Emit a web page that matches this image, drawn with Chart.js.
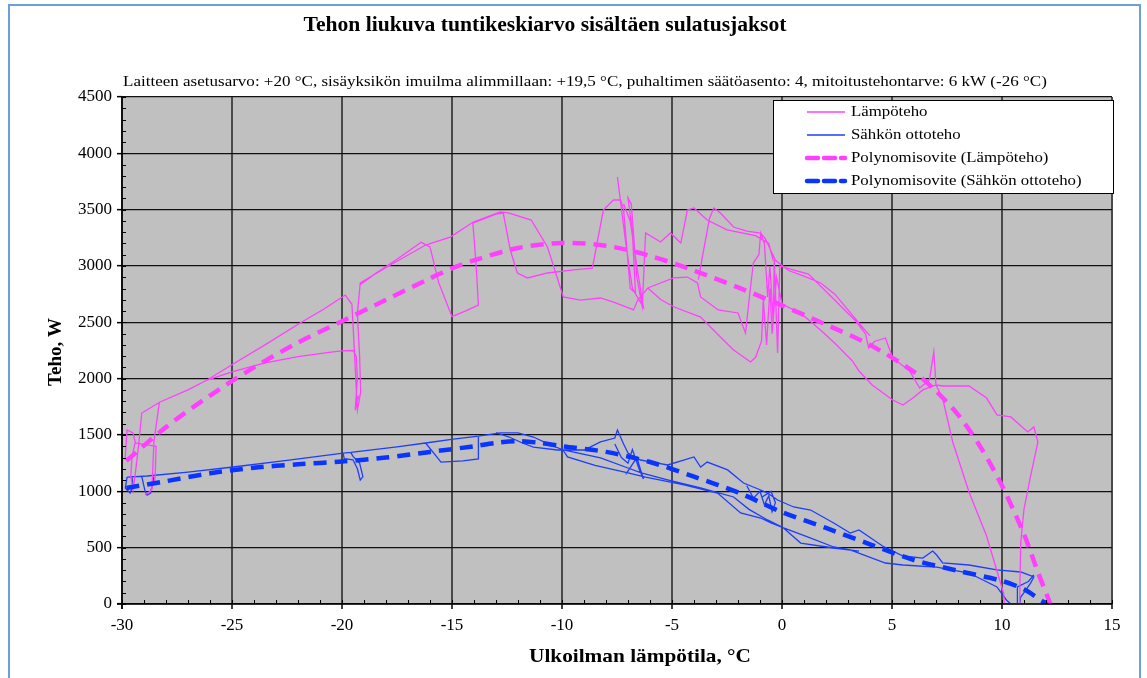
<!DOCTYPE html>
<html>
<head>
<meta charset="utf-8">
<script src="https://cdn.jsdelivr.net/npm/chart.js@4/dist/chart.umd.min.js"></script>
<style>
  html, body { margin: 0; padding: 0; background: #fff; }
  canvas { display: block; }
</style>
</head>
<body>
<canvas id="c" width="1147" height="678" style="width:1147px;height:678px"></canvas>
<script>
const SERIF = "'Liberation Serif', 'Times New Roman', serif";

const titleText = "Tehon liukuva tuntikeskiarvo sisältäen sulatusjaksot";
const subtitleText = "Laitteen asetusarvo: +20 °C, sisäyksikön imuilma alimmillaan: +19,5 °C, puhaltimen säätöasento: 4, mitoitustehontarve: 6 kW (-26 °C)";
const xTitle = "Ulkoilman lämpötila, °C";
const yTitle = "Teho, W";
const seriesNames = ["Lämpöteho", "Sähkön ottoteho", "Polynomisovite (Lämpöteho)", "Polynomisovite (Sähkön ottoteho)"];

// measured heat output, [outdoor °C, W], one array per trace
const lampoA = [[-29.86,1280],[-29.77,1545],[-29.5,1518],[-29.4,1440],[-29.55,1300],[-29.6,1130],[-29.5,1010],[-29.4,1150],[-29.25,1400],[-29.1,1695],[-28.27,1793],[-27,1900],[-26.13,1988],[-24.95,2130],[-23.5,2300],[-21.9,2494],[-20.8,2620],[-19.85,2742],[-19.55,2660],[-19.45,2300],[-19.35,1900],[-19.3,1720],[-19.15,1880],[-19.2,2200],[-19.3,2580],[-19.17,2849],[-17.8,3009],[-16.2,3186],[-15.08,3257],[-14.03,3390],[-12.8,3480],[-12.4,3470],[-11.4,3408],[-10.66,3169],[-9.94,2725],[-9.16,2698],[-8.25,2716],[-7.66,2680],[-7.0,2630],[-6.75,2610],[-6.55,2700],[-6.1,2805],[-5.52,2849],[-4.93,2894],[-4.3,2902],[-3.84,2849],[-3.7,2725],[-2.9,2610],[-2.0,2583],[-1.66,2405],[-1.43,2814],[-1.3,3027],[-1.05,3100],[-0.97,3293],[-0.8,3200],[-0.65,2725],[-0.55,3000],[-0.4,2500],[-0.35,3053],[-0.2,2228],[-0.1,3000],[0.07,2991],[1.2,2929],[2.44,2689],[3.35,2512],[3.8,2397],[3.94,2272],[4.2,2330],[4.7,2361],[5.03,2184],[5.8,2068],[6.26,1917],[6.7,1990],[6.9,2240],[7.0,1944],[7.3,1935],[8.5,1935],[9.3,1828],[9.77,1678],[10.4,1660],[11.17,1527],[11.45,1571],[11.63,1438],[11.3,1136],[11.0,843],[10.85,541],[10.8,0],[12.0,0]];
const lampoB = [[-28.3,1790],[-28.55,1440],[-28.6,1200],[-28.65,1010],[-28.95,970],[-28.75,990],[-28.5,1100],[-28.45,1400],[-29.4,1430]];
const lampoC = [[-26.13,1988],[-25,2060],[-23.5,2140],[-22,2195],[-20.5,2235],[-19.9,2248],[-19.5,2250],[-19.35,2200],[-19.3,2000],[-19.4,1720],[-19.25,1850]];
const lampoD = [[-19.2,2830],[-18.5,2930],[-17.5,3060],[-16.4,3210],[-16.0,3170],[-15.6,2850],[-15.0,2550],[-14.4,2600],[-13.8,2654],[-13.9,3000],[-14.05,3380],[-13.0,3460],[-12.67,3470],[-12.35,3142],[-12.03,2938],[-11.57,2894],[-10.66,2938],[-9.48,2965],[-8.62,2982],[-8.12,3497],[-7.66,3586],[-7.34,3586],[-7.2,3500],[-6.9,2800],[-6.66,2760],[-6.8,3300],[-7.0,3604],[-6.85,3550],[-6.6,2900],[-6.35,2640],[-6.2,3293],[-5.52,3213],[-5.07,3293],[-4.6,3204],[-4.4,3400],[-4.3,3497],[-4.0,3515],[-3.4,3408],[-2.5,3320],[-1.2,3270],[-0.6,3200],[-0.4,3050]];
const lampoE = [[-7.48,3790],[-7.1,3200],[-6.8,2800],[-6.5,2700],[-6.3,2636],[-6.6,3000],[-6.9,3400],[-7.2,3550]];
const lampoF = [[-3.8,2880],[-3.6,3100],[-3.3,3420],[-3.1,3515],[-2.8,3470],[-2.2,3346],[-1.6,3310],[-0.97,3293],[-0.75,3240],[-0.3,3050],[0.3,2960],[1.0,2910],[1.76,2849],[2.4,2750],[3.0,2610],[3.6,2470],[4.0,2380]];
const lampoG = [[-6.1,2805],[-5.5,2700],[-4.9,2636],[-3.7,2547],[-2.8,2370],[-2.2,2254],[-1.43,2148],[-1.2,2190],[-0.93,2334],[-0.85,2700],[-0.7,2300],[-0.55,2800],[-0.45,2400],[-0.25,2900],[0.0,2663],[0.9,2574],[1.8,2423],[2.44,2308],[3.2,2157],[3.5,2068],[4.1,1944],[5.03,1811],[5.5,1766],[5.95,1828],[6.4,1900],[7.0,1944],[7.3,1828],[7.76,1438],[8.5,994],[9.3,604],[10.08,89],[10.1,0],[10.8,0]];

// measured electric input
const sahkoA = [[-29.77,1127],[-28.86,1136],[-27,1170],[-24.95,1216],[-22.5,1275],[-19.95,1340],[-19.6,1345],[-17.5,1395],[-16.2,1429],[-14.94,1464],[-13.8,1490],[-12.8,1518],[-12.0,1518],[-11.3,1482],[-10.5,1411],[-9.94,1367],[-8.25,1296],[-7.0,1207],[-6.4,1163],[-5.2,1101],[-3.7,1030],[-2.2,950],[-1.5,840],[-0.66,746],[0.07,675],[1.16,595],[2.35,506],[3.1,480],[4.7,364],[5.5,346],[7.03,328],[8.5,275],[9.77,151],[10.2,36],[10.4,0],[12.2,0]];
const sahkoB = [[-13.0,1520],[-12.4,1482],[-11.8,1429],[-11.3,1393],[-10.2,1367],[-9.0,1367],[-8.25,1438],[-7.6,1473],[-7.48,1544],[-7.2,1420],[-7.0,1340],[-6.43,1278],[-5.9,1260],[-5.2,1234],[-4.47,1278],[-4.0,1305],[-3.7,1216],[-3.4,1260],[-2.47,1190],[-1.75,1074],[-0.97,1012],[-0.66,985],[-0.2,923],[0.53,861],[1.3,834],[2.35,719],[3.1,630],[3.5,657],[4.57,515],[5.5,426],[6.4,408],[6.85,470],[7.03,435],[7.3,364],[8.5,346],[9.77,302],[10.85,284],[11.45,240],[11.3,186],[11.0,100],[10.85,62],[10.8,0]];
const sahkoC = [[-10.0,1380],[-9.75,1305],[-8.5,1230],[-7.0,1163],[-6.2,1127],[-4.5,1060],[-2.93,985],[-1.88,808],[-0.97,763],[-0.5,720],[0.07,675],[0.85,541],[2.35,497],[3.5,470]];
const sahkoD = [[-29.77,1127],[-29.85,1030],[-29.63,985],[-29.5,1050],[-29.55,1130],[-29.1,1130],[-28.95,1000],[-28.86,967],[-28.7,985],[-28.6,1074],[-28.55,1130]];
const sahkoE = [[-19.95,1340],[-19.9,1290],[-19.5,1280],[-19.3,1200],[-19.17,1100],[-19.05,1130],[-19.2,1250],[-19.5,1310],[-19.6,1345]];
const sahkoF = [[-16.2,1429],[-15.5,1260],[-14.5,1270],[-13.8,1287],[-13.8,1482]];
const sahkoG = [[-7.6,1420],[-7.3,1300],[-7.0,1250],[-6.8,1370],[-6.5,1200],[-6.3,1110],[-6.6,1300],[-7.1,1150]];
const sahkoH = [[-1.6,1050],[-1.3,940],[-1.0,1000],[-0.8,880],[-0.6,960],[-0.45,820],[-0.3,900],[-0.5,1000],[-0.9,950]];
const sahkoI = [[10.7,0],[10.7,151],[11.2,200],[11.45,257]];

// polynomial fits as drawn
const lampoFit = [[-29.8,1270],[-28,1570],[-26,1850],[-24,2100],[-22,2320],[-20,2510],[-18,2700],[-16,2890],[-15,2980],[-14,3050],[-12,3160],[-10,3205],[-8,3180],[-6,3090],[-4,2960],[-2,2810],[0,2650],[2,2480],[4,2300],[6,2060],[7,1890],[8,1680],[9,1400],[10,1050],[11,620],[11.6,300],[12.2,0]];
const sahkoFit = [[-29.8,1030],[-28,1090],[-26,1160],[-24,1210],[-22,1240],[-20,1265],[-18,1300],[-16,1350],[-14,1400],[-13,1430],[-12,1445],[-11,1430],[-10,1400],[-8,1350],[-6,1260],[-4,1130],[-2,990],[0,815],[2,675],[4,530],[6,390],[8,295],[10,205],[11,130],[11.9,18],[12.2,0]];

const xTicks = { min: -30, max: 15, step: 5 };
const yTicks = { min: 0, max: 4500, step: 500 };

const PINK = "#ff40ff";
const BLUE = "#1f3dff";
const BLUE_FIT = "#0a34ff";

function joinTraces(traces) {
  const out = [];
  traces.forEach((t, i) => {
    if (i > 0) out.push({ x: t[0][0], y: null });
    t.forEach(p => out.push({ x: p[0], y: p[1] }));
  });
  return out;
}

const datasets = [
  { label: seriesNames[2], data: joinTraces([lampoFit]), borderColor: PINK, borderWidth: 4.5, borderDash: [13, 8], tension: 0.3, order: 1 },
  { label: seriesNames[3], data: joinTraces([sahkoFit]), borderColor: BLUE_FIT, borderWidth: 4.5, borderDash: [13, 8], tension: 0.3, order: 1 },
  { label: seriesNames[0], data: joinTraces([lampoA, lampoB, lampoC, lampoD, lampoE, lampoF, lampoG]), borderColor: PINK, borderWidth: 1.3, order: 2 },
  { label: seriesNames[1], data: joinTraces([sahkoA, sahkoB, sahkoC, sahkoD, sahkoE, sahkoF, sahkoG, sahkoH, sahkoI]), borderColor: BLUE, borderWidth: 1.3, order: 2 },
];
datasets.forEach(d => { d.showLine = true; d.pointRadius = 0; d.spanGaps = false; d.fill = false; });

// the original picture is a little wide, so texts get a horizontal stretch
function wideText(ctx, text, x, y, sx) {
  ctx.save();
  ctx.translate(x, y);
  ctx.scale(sx, 1);
  ctx.fillText(text, 0, 0);
  ctx.restore();
}

const decor = {
  id: "decor",
  beforeDraw(chart) {
    const { ctx, chartArea: a } = chart;
    ctx.save();
    ctx.fillStyle = "#c0c0c0";
    ctx.fillRect(a.left, a.top, a.right - a.left, a.bottom - a.top);
    ctx.restore();
  },
  afterDraw(chart) {
    const { ctx, chartArea: a, scales } = chart;
    const xs = scales.x, ys = scales.y;
    ctx.save();
    // minor ticks
    ctx.strokeStyle = "#000";
    ctx.lineWidth = 1;
    ctx.beginPath();
    for (let v = xTicks.min; v <= xTicks.max; v += 1) {
      const px = Math.round(xs.getPixelForValue(v)) + 0.5;
      ctx.moveTo(px, a.bottom); ctx.lineTo(px, a.bottom - 4);
    }
    for (let v = yTicks.min; v <= yTicks.max; v += 100) {
      const py = Math.round(ys.getPixelForValue(v)) + 0.5;
      ctx.moveTo(a.left, py); ctx.lineTo(a.left + 4, py);
    }
    ctx.stroke();
    // axes
    ctx.lineWidth = 1.5;
    ctx.beginPath();
    ctx.moveTo(a.left, a.top); ctx.lineTo(a.left, a.bottom + 5);
    ctx.moveTo(a.left - 5, a.bottom); ctx.lineTo(a.right, a.bottom);
    ctx.stroke();

    // legend
    const lx = 773, ly = 100, lw = 340, lh = 93;
    ctx.fillStyle = "#fff";
    ctx.fillRect(lx, ly, lw, lh);
    ctx.strokeStyle = "#000";
    ctx.lineWidth = 1;
    ctx.strokeRect(lx + 0.5, ly + 0.5, lw, lh);
    const rows = [112, 135, 158, 181];
    const legendDs = [datasets[2], datasets[3], datasets[0], datasets[1]];
    ctx.font = "15px " + SERIF;
    ctx.textBaseline = "middle";
    ctx.textAlign = "left";
    legendDs.forEach((d, i) => {
      ctx.beginPath();
      ctx.strokeStyle = d.borderColor;
      ctx.lineWidth = d.borderWidth;
      if (d.borderDash) { ctx.setLineDash([11, 6]); ctx.lineCap = "round"; } else { ctx.setLineDash([]); ctx.lineCap = "butt"; }
      ctx.moveTo(807, rows[i]); ctx.lineTo(845, rows[i]);
      ctx.stroke();
      ctx.setLineDash([]);
      ctx.fillStyle = "#000";
      wideText(ctx, d.label, 851, rows[i], 1.12);
    });

    // texts
    ctx.fillStyle = "#000";
    ctx.textBaseline = "alphabetic";
    ctx.textAlign = "center";
    ctx.font = "bold 20px " + SERIF;
    wideText(ctx, titleText, 545, 31, 1.08);
    ctx.textAlign = "left";
    ctx.font = "15px " + SERIF;
    wideText(ctx, subtitleText, 123, 86, 1.135);
    ctx.textAlign = "center";
    ctx.font = "bold 19px " + SERIF;
    wideText(ctx, xTitle, 640, 662, 1.12);
    ctx.save();
    ctx.translate(61, 352);
    ctx.rotate(-Math.PI / 2);
    ctx.fillText(yTitle, 0, 0);
    ctx.restore();

    // outer frame
    ctx.strokeStyle = "#6f9fd8";
    ctx.lineWidth = 2;
    ctx.beginPath();
    ctx.moveTo(9, 700); ctx.lineTo(9, 5); ctx.lineTo(1140, 5); ctx.lineTo(1140, 700);
    ctx.stroke();
    ctx.restore();
  }
};

const tickFont = { family: SERIF, size: 17 };

new Chart(document.getElementById("c"), {
  type: "scatter",
  data: { datasets },
  plugins: [decor],
  options: {
    responsive: false,
    animation: false,
    devicePixelRatio: 1,
    layout: { padding: { top: 97, right: 35, left: 0, bottom: 0 } },
    plugins: { legend: { display: false }, tooltip: { enabled: false }, title: { display: false } },
    scales: {
      x: {
        type: "linear",
        min: xTicks.min, max: xTicks.max,
        ticks: { stepSize: xTicks.step, font: tickFont, color: "#000", padding: 6, maxRotation: 0, callback: v => String(v) },
        grid: { color: "#4a4a4a", lineWidth: 2, tickLength: 5, tickColor: "#000", tickWidth: 1.5 },
        border: { display: false },
        afterFit: s => { s.height = 74; }
      },
      y: {
        type: "linear",
        min: yTicks.min, max: yTicks.max,
        ticks: { stepSize: yTicks.step, font: tickFont, color: "#000", padding: 5, callback: v => String(v) },
        grid: { color: "#111", lineWidth: 1.3, tickLength: 5, tickColor: "#000", tickWidth: 1.5 },
        border: { display: false },
        afterFit: s => { s.width = 122; }
      }
    }
  }
});
</script>
</body>
</html>
